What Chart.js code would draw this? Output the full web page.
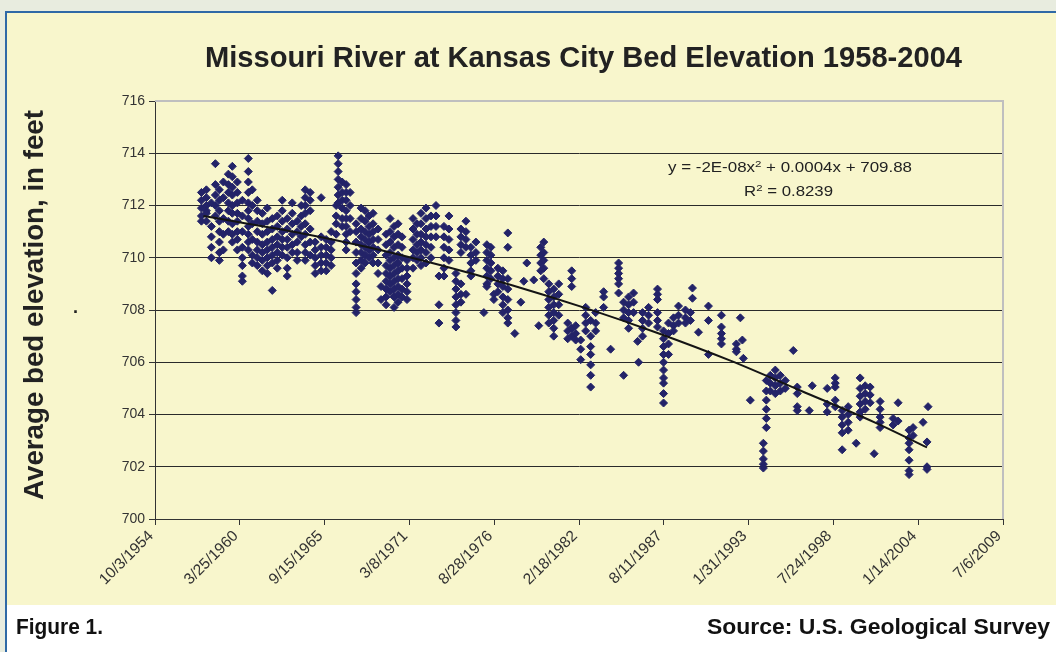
<!DOCTYPE html>
<html><head><meta charset="utf-8">
<script src="https://cdn.jsdelivr.net/npm/chart.js@4.4.1/dist/chart.umd.min.js"></script>
<style>
html,body{margin:0;padding:0;}
body{width:1056px;height:652px;overflow:hidden;position:relative;background:#e8ecdf;font-family:'Liberation Sans',Arial,sans-serif;}
#frame{position:absolute;left:5px;top:11px;width:1051px;height:641px;box-sizing:border-box;border-left:2px solid #2f69a6;border-top:2px solid #2f69a6;background:#ffffff;}
#panel{position:absolute;left:7px;top:13px;width:1049px;height:592px;background:#f8f6cc;}
#chartBox{position:absolute;left:0;top:0;width:1056px;height:652px;}
.txt{position:absolute;white-space:nowrap;color:#222;line-height:1;transform-origin:0 0;}
.sp{font-size:0.68em;position:relative;top:-0.5em;}
</style></head>
<body>
<div id="frame"></div>
<div id="panel"></div>
<div id="chartBox"><canvas id="chart" width="1056" height="652"></canvas></div>
<div class="txt" id="title" style="font-weight:bold;font-size:29px;left:205px;top:43px;">Missouri River at Kansas City Bed Elevation 1958-2004</div>
<div class="txt" id="ylabel" style="font-weight:bold;font-size:28px;left:20px;top:500px;">Average bed elevation, in feet</div>
<div class="txt" id="dot" style="font-weight:bold;font-size:18px;left:73px;top:298px;">.</div>
<div class="txt" id="eq1" style="font-size:14px;left:668px;top:160px;">y = -2E-08x<span class="sp">2</span> + 0.0004x + 709.88</div>
<div class="txt" id="eq2" style="font-size:14px;left:744px;top:184px;">R<span class="sp">2</span> = 0.8239</div>
<div class="txt" id="fig" style="font-weight:bold;font-size:22px;left:16px;top:616px;color:#111;">Figure 1.</div>
<div class="txt" id="src" style="font-weight:bold;font-size:22px;left:707px;top:616px;color:#111;">Source: U.S. Geological Survey</div>
<script>
// X axis tick labels (Excel date serials 20000..40000, every 2000 days)
const tickDates = ['10/3/1954','3/25/1960','9/15/1965','3/8/1971','8/28/1976','2/18/1982','8/11/1987','1/31/1993','7/24/1998','1/14/2004','7/6/2009'];
const axisStartDay = 20000, axisEndDay = 40000, axisStepDays = 2000;
const yMin = 700, yMax = 716, yStep = 2;

// Survey dates (Excel day serials) and bed elevations (feet) measured on each
const surveyDays = [21095,21212,21330,21424,21518,21612,21730,21824,21942,22060,
  22201,22295,22413,22531,22648,22766,22884,23001,23119,23237,
  23354,23449,23543,23660,23778,23919,24037,24155,24273,24320,
  24414,24508,24602,24743,24861,24955,25049,25143,25261,25332,
  25450,25544,25638,25732,25826,25944,26085,26179,26273,26391,
  26509,26627,26697,26815,26933,27097,27215,27333,27450,27568,
  27756,27827,27921,27992,28086,28204,28321,28486,28627,28698,
  28769,28933,29051,29098,29169,29287,29404,29522,29734,29828,
  29922,30040,30158,30275,30393,30581,30746,30934,31052,31170,
  31287,31382,31405,31499,31641,31852,31994,32111,32229,32347,
  32511,32629,32676,32818,33053,33359,33712,33806,33853,33877,
  34041,34348,34418,34512,34630,34748,34865,35054,35148,35430,
  35501,35854,36043,36207,36349,36537,36631,36749,36867,36961,
  37102,37408,37526,37785,37879,38114,38208,38232];

const surveyElevations = [
  [712.5,712.2,711.9,711.6,711.4],
  [712.6,712.3,712.0,711.8,711.7,711.4],
  [712.1,711.2,710.8,710.4,710.0],
  [713.6,712.8,712.4,712.0,711.6],
  [712.6,712.2,711.8,711.4,711.0,710.6,710.2,709.9],
  [712.9,712.3,711.5,710.9,710.3],
  [713.2,712.8,712.5,712.1,711.8,711.4,711.0],
  [713.5,713.1,712.7,712.4,712.0,711.7,711.3,710.9,710.6],
  [712.9,712.5,712.1,711.7,711.4,711.0,710.7,710.3],
  [712.2,711.6,711.0,710.4,710.0,709.7,709.3,709.1],
  [713.8,713.3,712.9,712.5,712.1,711.8,711.5,711.2,710.9,710.6,710.3],
  [712.6,712.0,711.3,710.7,710.1,709.8],
  [712.2,711.8,711.4,711.0,710.6,710.3,710.0,709.7],
  [711.7,711.3,710.9,710.5,710.2,709.9,709.5],
  [711.9,711.4,711.0,710.6,710.3,710.0,709.7,709.4],
  [711.5,711.1,710.7,710.4,710.1,709.8,708.75],
  [711.6,711.2,710.8,710.5,710.2,709.9,709.6],
  [712.2,711.8,711.4,711.0,710.7,710.4,710.1],
  [711.5,711.1,710.7,710.4,710.0,709.6,709.3],
  [712.1,711.7,711.3,710.9,710.5,710.2],
  [711.4,711.0,710.6,710.2,709.9],
  [712.0,711.6,711.2,710.8],
  [712.6,712.3,712.0,711.7,711.3,710.9,710.5,710.2,709.9],
  [712.5,712.2,711.8,711.1,710.6,710.1],
  [710.6,710.3,710.0,709.7,709.4],
  [712.3,710.8,710.4,710.1,709.8,709.5],
  [710.7,710.4,710.1,709.8,709.5],
  [711.0,710.6,710.3,710.0,709.7],
  [712.0,711.6,711.3,710.9],
  [713.9,713.6,713.3,713.0,712.7,712.4,712.1],
  [712.9,712.5,712.2,711.9,711.5,711.2],
  [712.8,712.5,712.2,711.8,711.5,711.2,710.9,710.6,710.3],
  [712.5,712.0,711.5,711.0],
  [711.3,711.0,710.6,710.2,709.8,709.4,709.0,708.7,708.4,708.1,707.9],
  [711.9,711.5,711.1,710.8,710.5,710.2,709.9,709.6],
  [711.8,711.4,711.0,710.7,710.4,710.1,709.8],
  [711.6,711.2,710.9,710.6,710.3,710.0],
  [711.7,711.3,711.0,710.7,710.4,710.1,709.8],
  [711.1,710.7,710.3,709.8,709.4],
  [708.9,708.4],
  [710.9,710.5,710.1,709.7,709.4,709.1,708.8,708.5,708.2],
  [711.5,711.0,710.6,710.2,709.9,709.6,709.3,709.0,708.7],
  [711.2,710.8,710.4,710.0,709.7,709.4,709.1,708.8,708.5,708.1],
  [711.3,710.9,710.5,710.1,709.8,709.5,709.2,708.9,708.6,708.3],
  [710.8,710.4,710.0,709.6,709.2,708.8,708.5],
  [709.9,709.6,709.3,709.0,708.7,708.4],
  [711.5,711.1,710.7,710.3,710.0,709.6],
  [711.3,710.9,710.5,710.2,709.9],
  [711.7,711.3,710.9,710.6,710.3,710.0,709.7],
  [711.9,711.5,711.1,710.8,710.5,710.2,709.8],
  [711.6,711.2,710.8,710.4,710.0],
  [712.0,711.6,711.2,710.8],
  [709.3,708.2,707.5],
  [711.2,710.8,710.4,710.0,709.6,709.3],
  [711.6,711.1,710.7,710.3,709.9],
  [709.4,709.1,708.8,708.5,708.2,707.9,707.6,707.35],
  [711.1,710.8,710.5,710.2,709.0,708.6,708.3],
  [711.4,711.0,710.7,710.4,708.6],
  [710.4,710.1,709.8,709.5,709.3],
  [710.6,710.2,709.9],
  [707.9],
  [710.5,710.2,709.9,709.6,709.3,709.0,708.9],
  [710.4,710.1,709.8,709.5,709.2],
  [708.6,708.4],
  [709.6,709.3,709.0,708.7],
  [709.5,709.2,708.9,708.5,708.2,707.9],
  [710.95,710.4,709.2,708.8,708.4,708.0,707.7,707.5],
  [707.1],
  [708.3],
  [709.1],
  [709.8],
  [709.15],
  [707.4],
  [710.4,710.1,709.8,709.5],
  [710.6,710.2,709.9,709.6,709.2],
  [709.0,708.7,708.4,708.1,707.8,707.5],
  [708.8,708.5,708.2,707.9,707.6,707.3,707.0],
  [709.0,708.6,708.2,707.8],
  [707.5,707.2,706.9],
  [709.5,709.2,708.9,707.3,707.0],
  [707.4,707.1,706.85],
  [706.85,706.5,706.1],
  [708.1,707.8,707.5,707.2],
  [707.6,707.0,706.6,706.3,705.9,705.5,705.05],
  [707.9,707.5,707.2],
  [708.7,708.5,708.1],
  [706.5],
  [709.8,709.6,709.4,709.2,709.0,708.65],
  [708.3,708.0,707.7,705.5],
  [708.5,708.2,707.9,707.6,707.3],
  [708.65,708.3,707.9],
  [706.8],
  [706.0],
  [707.9,707.6,707.3,707.0],
  [708.1,707.8,707.5],
  [708.8,708.6,708.4,707.9,707.6,707.35],
  [707.2,706.9,706.6,706.3,706.0,705.7,705.4,705.2,704.8,704.44],
  [707.5,707.1,706.7,706.3],
  [707.7,707.4,707.2],
  [708.15,707.8,707.5],
  [708.0,707.7,707.5],
  [707.9,707.6],
  [708.84,708.45],
  [707.15],
  [708.15,707.6,706.3],
  [707.8,707.35,707.1,706.9,706.7],
  [706.7,706.5,706.4],
  [707.7],
  [706.85],
  [706.15],
  [704.55],
  [702.9,702.6,702.3,702.1,701.95],
  [705.3,704.9,704.55,704.2,703.85,703.5],
  [705.5,705.2,704.9],
  [705.7,705.4,705.1,704.8],
  [705.5,705.2,704.9],
  [705.3,705.0],
  [706.45],
  [705.05,704.8,704.3,704.15],
  [704.15],
  [705.1],
  [705.0,704.4,704.1],
  [705.4,705.2,705.05,704.55,704.3],
  [704.15,703.9,703.6,703.3,702.65],
  [704.3,704.0,703.7,703.4],
  [702.9],
  [705.4,705.0,704.7,704.4,704.1,703.9],
  [705.1,704.8,704.5,704.2],
  [705.05,704.75,704.45],
  [702.5],
  [704.5,704.2,703.9,703.7,703.5],
  [703.85,703.6],
  [704.45,703.75],
  [703.4,703.1,702.9,702.65,702.25,701.85,701.7],
  [703.5,703.2],
  [703.7],
  [702.95,702.0,701.9],
  [704.3]
];

// Polynomial trend line
const trendDays = [21142,23331,24979,26744,28439,30158,31852,33571,35219,36984,38208];
const trendElevations = [711.60,710.98,710.42,709.71,708.94,708.07,707.12,706.06,704.92,703.69,702.74];

const points = [];
surveyDays.forEach((d, i) => surveyElevations[i].forEach(e => points.push({x: d, y: e})));
const trendPoints = trendDays.map((d, i) => ({x: d, y: trendElevations[i]}));

const frameLines = {
  id: 'frameLines',
  beforeDatasetsDraw(chart) {
    const {ctx, chartArea: a} = chart;
    ctx.save();
    ctx.strokeStyle = '#bfbfbf';
    ctx.lineWidth = 2;
    ctx.beginPath();
    ctx.moveTo(a.left, a.top);
    ctx.lineTo(a.right, a.top);
    ctx.lineTo(a.right, a.bottom);
    ctx.stroke();
    ctx.restore();
  }
};

new Chart(document.getElementById('chart'), {
  type: 'scatter',
  data: {
    datasets: [
      {type: 'line', label: 'Trend', data: trendPoints, borderColor: '#141414', borderWidth: 2,
       pointRadius: 0, fill: false, tension: 0.35, order: 0},
      {type: 'scatter', label: 'Bed elevation', data: points, pointStyle: 'rectRot', pointRadius: 4,
       pointBorderWidth: 1, backgroundColor: '#232368', borderColor: '#232368', order: 1}
    ]
  },
  options: {
    responsive: false, animation: false, devicePixelRatio: 1,
    layout: {padding: {left: 0, right: 53, top: 101, bottom: 0}},
    plugins: {legend: {display: false}, tooltip: {enabled: false}, title: {display: false}},
    scales: {
      x: {
        type: 'linear', min: axisStartDay, max: axisEndDay,
        afterFit: s => { s.height = 133; },
        ticks: {stepSize: axisStepDays, autoSkip: false, minRotation: 45, maxRotation: 45,
          color: '#333', font: {family: "'Liberation Sans', Arial", size: 15.5}, padding: 2, labelOffset: -4,
          callback: v => tickDates[Math.round((v - axisStartDay) / axisStepDays)]},
        grid: {drawOnChartArea: false, drawTicks: true, tickLength: 6, tickColor: '#333', color: '#333'},
        border: {color: '#333', width: 1}
      },
      y: {
        min: yMin, max: yMax,
        afterFit: s => { s.width = 155; },
        ticks: {stepSize: yStep, color: '#333', font: {family: "'Liberation Sans', Arial", size: 14}, padding: 4},
        grid: {color: c => (c.tick && c.tick.value === yMax) ? 'rgba(0,0,0,0)' : '#2a2a2a',
               tickColor: '#333', tickLength: 6, lineWidth: 1},
        border: {color: '#333', width: 1}
      }
    }
  },
  plugins: [frameLines]
});

// horizontally condense text blocks to the widths they occupy in the figure
function fit(id, target) {
  const el = document.getElementById(id);
  const w = el.getBoundingClientRect().width;
  return target / w;
}
const tS = fit('title', 757);
document.getElementById('title').style.transform = 'scaleX(' + tS + ')';
const yEl = document.getElementById('ylabel');
const yS = 390 / yEl.getBoundingClientRect().width;
yEl.style.transform = 'rotate(-90deg) scaleX(' + yS + ')';
document.getElementById('fig').style.transform = 'scaleX(' + fit('fig', 87) + ')';
document.getElementById('src').style.transform = 'scaleX(' + fit('src', 343) + ')';
document.getElementById('eq1').style.transform = 'scaleX(' + fit('eq1', 244) + ')';
document.getElementById('eq2').style.transform = 'scaleX(' + fit('eq2', 89) + ')';
</script>
</body></html>
